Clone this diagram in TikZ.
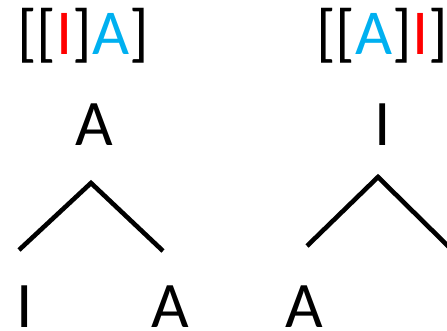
\documentclass[tikz,border=0pt]{standalone}
\usepackage{fontspec}
\setmainfont{Carlito}
\definecolor{cred}{HTML}{FF0000}
\definecolor{cblue}{HTML}{00B0F0}
\begin{document}
\begin{tikzpicture}[x=1pt,y=-1pt,
  lbl/.style={inner sep=0pt,anchor=base,font=\fontsize{65}{78}\selectfont},
  formula/.style={inner sep=0pt,anchor=base west,font=\fontsize{64}{76}\selectfont},
  branch/.style={line width=4.6pt}]
\useasboundingbox (0,0) rectangle (447,331);
% formulas
\node[formula] (fL) at (17,55) {[[\textcolor{cred}{I}]\textcolor{cblue}{A}]};
\node[formula] (fR) at (316,55) {[[\textcolor{cblue}{A}]\textcolor{cred}{I}]};
% left tree
\node[lbl] (rootL) at (94.5,146) {A};
\node[lbl] (leafL1) at (24.5,327) {I};
\node[lbl] (leafL2) at (170,327) {A};
\coordinate (apexL) at (91,183);
\coordinate (endL1) at (19,250);
\coordinate (endL2) at (163,251);
\draw[branch] (endL1) -- (apexL) -- (endL2);
% right tree
\node[lbl] (rootR) at (383,146) {I};
\node[lbl] (leafR1) at (304.5,327) {A};
\coordinate (apexR) at (378,177);
\coordinate (endR1) at (307,246);
\coordinate (endR2) at (450,248);
\draw[branch] (endR1) -- (apexR) -- (endR2);
\end{tikzpicture}
\end{document}
